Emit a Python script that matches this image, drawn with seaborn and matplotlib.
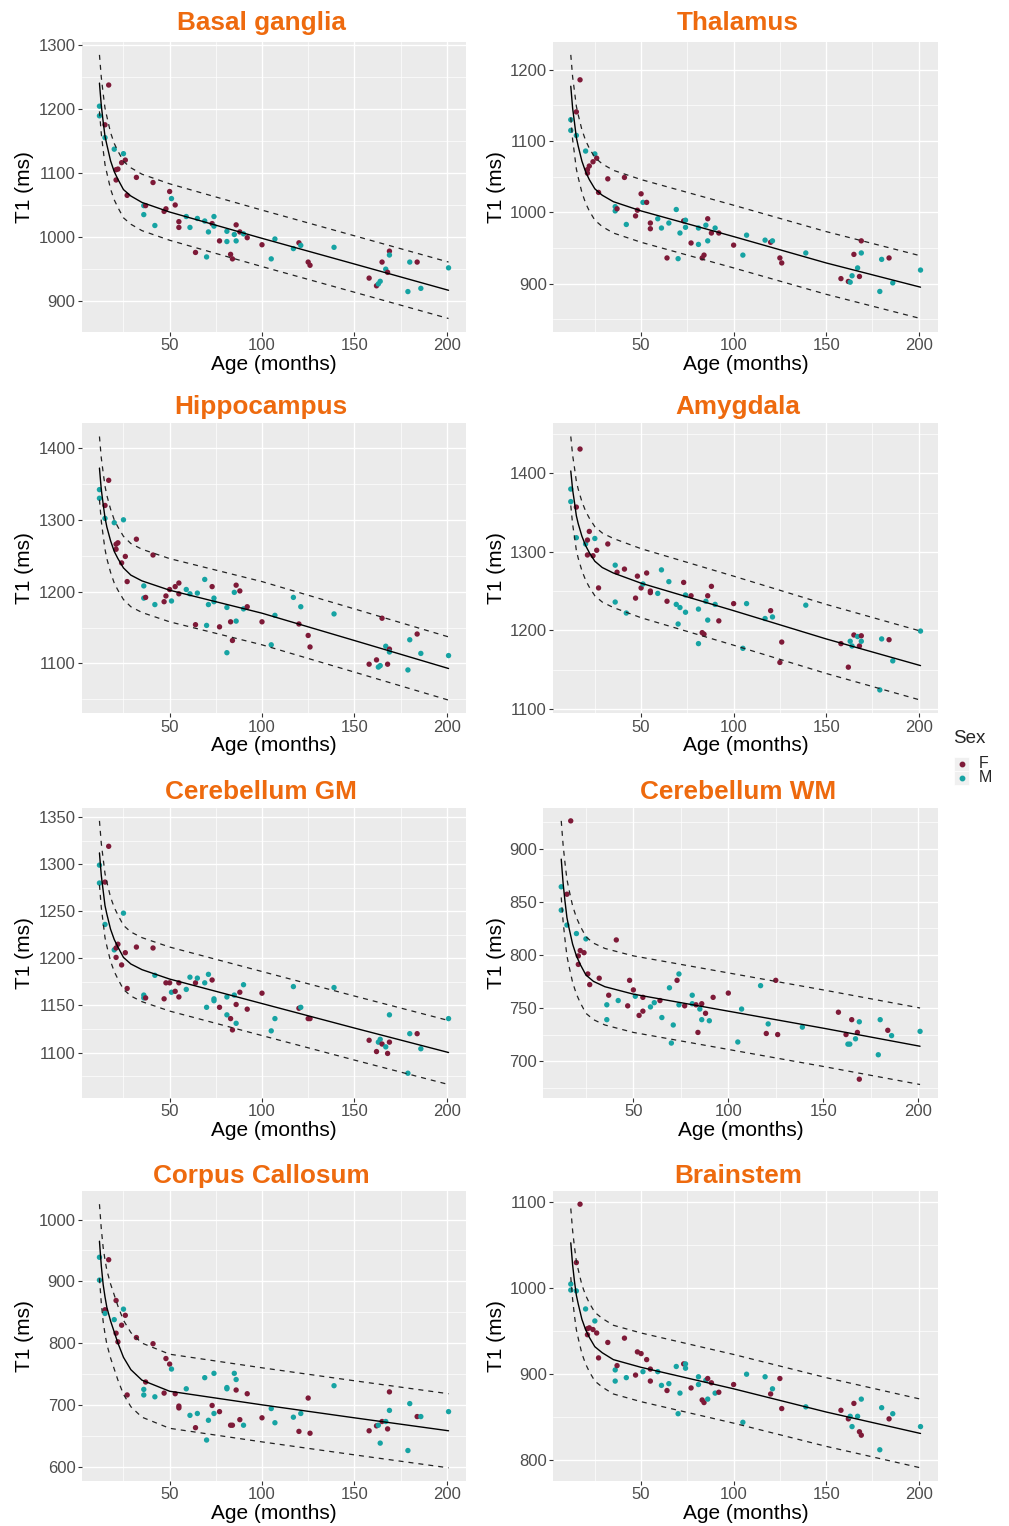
import matplotlib
matplotlib.use("Agg")
import matplotlib.pyplot as plt
from matplotlib.ticker import MultipleLocator
from matplotlib.patches import Rectangle
from matplotlib.lines import Line2D
import pandas as pd
import seaborn as sns

# subjects (shared by all regions)
AGE = [12, 12, 15, 15, 17, 20, 21, 21, 22, 24,
       25, 26, 27, 32, 36, 36, 37, 41, 42, 47,
       48, 50, 51, 53, 55, 55, 59, 61, 64, 65,
       69, 70, 71, 73, 74, 74, 77, 81, 81, 83,
       84, 85, 86, 86, 88, 90, 92, 100, 105, 107,
       117, 120, 121, 125, 126, 139, 158, 162, 163, 164,
       165, 167, 168, 169, 169, 179, 180, 184, 186, 201]
SEX = ["M", "M", "F", "M", "F", "M", "F", "F", "F", "F",
       "M", "F", "F", "F", "M", "M", "F", "F", "M", "F",
       "F", "F", "M", "F", "F", "F", "M", "M", "F", "M",
       "M", "M", "M", "F", "M", "M", "F", "M", "M", "F",
       "F", "M", "F", "M", "F", "M", "F", "F", "M", "M",
       "M", "F", "M", "F", "F", "M", "F", "F", "M", "M",
       "F", "M", "F", "F", "M", "M", "M", "F", "M", "M"]

T1_BASAL = [1204, 1189, 1175, 1155, 1237, 1137, 1089, 1105, 1106, 1116,
            1130, 1120, 1065, 1093, 1049, 1035, 1049, 1085, 1018, 1040,
            1044, 1071, 1060, 1050, 1024, 1015, 1032, 1015, 976, 1029,
            1025, 969, 1008, 1021, 1032, 1017, 994, 1009, 993, 973,
            966, 1004, 1019, 994, 1008, 1005, 999, 988, 966, 997,
            982, 991, 987, 961, 956, 984, 936, 924, 927, 931,
            961, 950, 945, 978, 972, 915, 961, 961, 920, 952]
T1_THALAMUS = [1130, 1115, 1141, 1108, 1186, 1086, 1055, 1060, 1065, 1071,
               1082, 1076, 1028, 1047, 1008, 1002, 1005, 1049, 983, 995,
               1003, 1026, 1014, 1014, 985, 977, 991, 978, 936, 985,
               1004, 935, 971, 988, 989, 979, 957, 978, 955, 936,
               940, 982, 991, 960, 971, 978, 971, 954, 940, 968,
               961, 958, 960, 936, 929, 943, 907, 903, 902, 911,
               941, 922, 910, 960, 943, 889, 934, 936, 901, 919]
T1_HIPPO = [1342, 1330, 1320, 1302, 1355, 1296, 1259, 1266, 1268, 1240,
            1300, 1249, 1214, 1273, 1208, 1191, 1192, 1251, 1182, 1186,
            1194, 1203, 1187, 1207, 1212, 1197, 1203, 1197, 1154, 1198,
            1217, 1153, 1182, 1207, 1191, 1186, 1151, 1178, 1115, 1158,
            1132, 1199, 1209, 1159, 1201, 1176, 1179, 1158, 1126, 1167,
            1192, 1155, 1179, 1139, 1123, 1169, 1099, 1105, 1095, 1097,
            1163, 1124, 1099, 1120, 1116, 1091, 1133, 1141, 1114, 1111]
T1_AMYG = [1380, 1364, 1357, 1318, 1431, 1310, 1296, 1315, 1326, 1295,
           1317, 1302, 1254, 1310, 1283, 1236, 1274, 1278, 1222, 1241,
           1269, 1254, 1259, 1273, 1250, 1248, 1247, 1277, 1237, 1262,
           1233, 1208, 1229, 1261, 1245, 1223, 1244, 1227, 1183, 1197,
           1195, 1237, 1244, 1213, 1256, 1233, 1212, 1234, 1177, 1234,
           1215, 1225, 1217, 1159, 1185, 1232, 1183, 1153, 1186, 1180,
           1194, 1192, 1180, 1193, 1186, 1124, 1189, 1188, 1161, 1199]
T1_CBGM = [1299, 1280, 1281, 1236, 1319, 1209, 1201, 1211, 1215, 1193,
           1248, 1206, 1168, 1212, 1161, 1158, 1158, 1211, 1182, 1157,
           1174, 1174, 1164, 1165, 1174, 1159, 1167, 1180, 1174, 1179,
           1174, 1148, 1183, 1177, 1157, 1155, 1148, 1159, 1140, 1136,
           1124, 1161, 1151, 1131, 1164, 1172, 1146, 1163, 1123, 1136,
           1170, 1147, 1148, 1136, 1136, 1169, 1113, 1101, 1111, 1114,
           1109, 1106, 1099, 1111, 1140, 1078, 1120, 1120, 1104, 1136]
T1_CBWM = [864, 842, 857, 828, 926, 820, 791, 799, 804, 802,
           815, 782, 772, 778, 753, 739, 762, 814, 757, 752,
           776, 767, 761, 743, 760, 747, 751, 755, 757, 741,
           769, 717, 734, 776, 782, 753, 752, 762, 754, 753,
           727, 749, 754, 739, 745, 738, 760, 764, 718, 749,
           771, 726, 735, 776, 725, 732, 746, 725, 716, 716,
           739, 721, 727, 683, 737, 706, 739, 729, 724, 728]
T1_CC = [939, 902, 854, 848, 935, 838, 869, 816, 802, 829,
         855, 845, 716, 809, 725, 716, 737, 799, 713, 719,
         775, 766, 758, 718, 698, 695, 726, 683, 663, 686,
         744, 643, 675, 699, 751, 686, 689, 728, 726, 667,
         667, 751, 724, 741, 676, 667, 718, 679, 694, 671,
         680, 657, 686, 711, 654, 731, 658, 666, 667, 638,
         673, 673, 661, 721, 691, 626, 702, 681, 681, 689]
T1_BSTEM = [1005, 998, 1030, 997, 1098, 976, 953, 946, 954, 952,
            962, 948, 919, 937, 905, 892, 910, 942, 896, 899,
            926, 924, 903, 917, 906, 892, 903, 887, 881, 889,
            909, 854, 878, 912, 912, 907, 884, 897, 888, 870,
            867, 893, 895, 871, 890, 878, 879, 888, 844, 900,
            897, 877, 883, 895, 860, 862, 858, 848, 851, 839,
            866, 851, 833, 829, 871, 812, 861, 848, 854, 839]

# fitted curve and prediction band, read at these ages
CURVE_AGE = [12, 13, 14, 15, 16, 18, 20, 22, 25, 29, 35, 50, 100, 150, 201]

FIT_BASAL = [1240, 1205, 1180, 1157, 1144, 1119, 1102, 1090, 1074, 1064, 1054, 1039, 998, 958, 917]
UP_BASAL = [1284, 1249, 1224, 1201, 1188, 1163, 1146, 1134, 1118, 1108, 1098, 1083, 1042, 1002, 961]
LO_BASAL = [1196, 1161, 1136, 1113, 1100, 1075, 1058, 1046, 1030, 1020, 1010, 995, 954, 914, 873]

FIT_THALAMUS = [1177, 1146, 1126, 1105, 1093, 1072, 1057, 1046, 1033, 1024, 1015, 1002, 966, 929, 895]
UP_THALAMUS = [1221, 1190, 1170, 1149, 1137, 1116, 1101, 1090, 1077, 1068, 1059, 1046, 1010, 973, 939]
LO_THALAMUS = [1133, 1102, 1082, 1061, 1049, 1028, 1013, 1002, 989, 980, 971, 958, 922, 885, 851]

FIT_HIPPO = [1372, 1342, 1322, 1303, 1290, 1271, 1256, 1246, 1233, 1223, 1215, 1202, 1170, 1132, 1093]
UP_HIPPO = [1416, 1386, 1366, 1347, 1334, 1315, 1300, 1290, 1277, 1267, 1259, 1246, 1214, 1176, 1137]
LO_HIPPO = [1328, 1298, 1278, 1259, 1246, 1227, 1212, 1202, 1189, 1179, 1171, 1158, 1126, 1088, 1049]

FIT_AMYG = [1403, 1379, 1363, 1346, 1336, 1320, 1308, 1299, 1288, 1280, 1273, 1260, 1225, 1189, 1155]
UP_AMYG = [1447, 1423, 1407, 1390, 1380, 1364, 1352, 1343, 1332, 1324, 1317, 1304, 1269, 1233, 1199]
LO_AMYG = [1359, 1335, 1319, 1302, 1292, 1276, 1264, 1255, 1244, 1236, 1229, 1216, 1181, 1145, 1111]

FIT_CBGM = [1312, 1288, 1272, 1256, 1247, 1231, 1220, 1212, 1201, 1194, 1188, 1178, 1152, 1126, 1100]
UP_CBGM = [1346, 1322, 1306, 1290, 1281, 1265, 1254, 1246, 1235, 1228, 1222, 1212, 1186, 1160, 1134]
LO_CBGM = [1278, 1254, 1238, 1222, 1213, 1197, 1186, 1178, 1167, 1160, 1154, 1144, 1118, 1092, 1066]

FIT_CBWM = [890, 867, 850, 835, 826, 810, 799, 791, 781, 775, 770, 763, 747, 731, 714]
UP_CBWM = [926, 903, 886, 871, 862, 846, 835, 827, 817, 811, 806, 799, 783, 767, 750]
LO_CBWM = [854, 831, 814, 799, 790, 774, 763, 755, 745, 739, 734, 727, 711, 695, 678]

FIT_CC = [965, 925, 895, 875, 858, 836, 818, 800, 777, 757, 740, 722, 700, 679, 658]
UP_CC = [1025, 985, 955, 935, 918, 896, 878, 860, 837, 817, 800, 782, 760, 739, 718]
LO_CC = [905, 865, 835, 815, 798, 776, 758, 740, 717, 697, 680, 662, 640, 619, 598]

FIT_BSTEM = [1053, 1027, 1008, 992, 982, 964, 952, 943, 932, 925, 917, 908, 883, 856, 831]
UP_BSTEM = [1093, 1067, 1048, 1032, 1022, 1004, 992, 983, 972, 965, 957, 948, 923, 896, 871]
LO_BSTEM = [1013, 987, 968, 952, 942, 924, 912, 903, 892, 885, 877, 868, 843, 816, 791]

PANELS = [
    ("Basal ganglia", T1_BASAL, FIT_BASAL, UP_BASAL, LO_BASAL, 100),
    ("Thalamus", T1_THALAMUS, FIT_THALAMUS, UP_THALAMUS, LO_THALAMUS, 100),
    ("Hippocampus", T1_HIPPO, FIT_HIPPO, UP_HIPPO, LO_HIPPO, 100),
    ("Amygdala", T1_AMYG, FIT_AMYG, UP_AMYG, LO_AMYG, 100),
    ("Cerebellum GM", T1_CBGM, FIT_CBGM, UP_CBGM, LO_CBGM, 50),
    ("Cerebellum WM", T1_CBWM, FIT_CBWM, UP_CBWM, LO_CBWM, 50),
    ("Corpus Callosum", T1_CC, FIT_CC, UP_CC, LO_CC, 100),
    ("Brainstem", T1_BSTEM, FIT_BSTEM, UP_BSTEM, LO_BSTEM, 100),
]

PALETTE = {"F": "#7E1A38", "M": "#16A3A3"}
TITLE_COLOR = "#EE6A0E"

sns.set_theme(style="darkgrid", rc={"axes.facecolor": "#EBEBEB", "grid.color": "white"})
plt.rcParams["font.family"] = ["Liberation Sans", "DejaVu Sans"]

W, H = 1009, 1526
fig = plt.figure(figsize=(W / 100, H / 100), dpi=100)
fig.patch.set_facecolor("white")

row_top = [41.7, 423.3, 807.7, 1191.0]
title_y = [23, 407, 792, 1176]
panel_h = 290.0

for i, (name, t1, fit, up, lo, step) in enumerate(PANELS):
    r, c = divmod(i, 2)
    if c == 0:
        left, right, title_x, ylab_x = 82.0, 466.0, 261, 25
    else:
        left = 543.3 if name == "Cerebellum WM" else 553.3
        right, title_x, ylab_x = 938.0, 738, 497
    top = row_top[r]
    ax = fig.add_axes([left / W, 1 - (top + panel_h) / H, (right - left) / W, panel_h / H])

    df = pd.DataFrame({"age": AGE, "t1": t1, "sex": SEX})
    sns.scatterplot(data=df, x="age", y="t1", hue="sex", palette=PALETTE,
                    s=15, linewidth=0, legend=False, ax=ax, zorder=3)
    sns.lineplot(x=CURVE_AGE, y=fit, ax=ax, color="black", lw=1.0,
                 estimator=None, sort=False, zorder=4)
    for band in (up, lo):
        sns.lineplot(x=CURVE_AGE, y=band, ax=ax, color="#222222", lw=0.9,
                     linestyle=(0, (4, 4)), estimator=None, sort=False, zorder=4)

    ax.margins(x=0.05, y=0.05)
    ax.xaxis.set_major_locator(MultipleLocator(50))
    ax.xaxis.set_minor_locator(MultipleLocator(25))
    ax.yaxis.set_major_locator(MultipleLocator(step))
    ax.yaxis.set_minor_locator(MultipleLocator(step / 2))
    ax.autoscale_view()
    xl = ax.get_xlim()
    ax.set_xticks([50, 100, 150, 200])
    ax.set_xlim(xl)

    ax.grid(which="major", color="white", linewidth=1.0)
    ax.grid(which="minor", color="white", linewidth=0.5)
    ax.set_axisbelow(True)
    for sp in ax.spines.values():
        sp.set_visible(False)
    ax.tick_params(which="major", length=2.6, width=0.8, color="#333333",
                   labelcolor="#4D4D4D", labelsize=12, pad=2,
                   bottom=True, left=True)
    ax.tick_params(which="minor", length=0)

    ax.set_xlabel("Age (months)", fontsize=15, color="black", va="center")
    ax.set_ylabel("T1 (ms)", fontsize=15, color="black", va="center")
    ax.xaxis.set_label_coords(0.5, -32.5 / panel_h)
    ax.yaxis.set_label_coords((ylab_x - left) / (right - left), 0.5)

    fig.text(title_x / W, 1 - title_y[r] / H, name, color=TITLE_COLOR,
             fontsize=18.8, fontweight="bold", ha="center", va="center")

# legend
fig.text(953 / W, 1 - 739 / H, "Sex", fontsize=13.5, ha="left", va="center")
for k, (lab, yy) in enumerate([("F", 764), ("M", 778)]):
    fig.add_artist(Rectangle((954 / W, 1 - (yy + 7) / H), 15 / W, 14 / H,
                             transform=fig.transFigure, facecolor="#F0F0F0",
                             edgecolor="white", linewidth=0.5))
    fig.add_artist(Line2D([961.5 / W], [1 - yy / H], transform=fig.transFigure,
                          marker="o", markersize=3.2, color=PALETTE[lab], linestyle="none"))
    fig.text(979 / W, 1 - yy / H, lab, fontsize=11.5, ha="left", va="center")

fig.savefig("out.png", dpi=100)
